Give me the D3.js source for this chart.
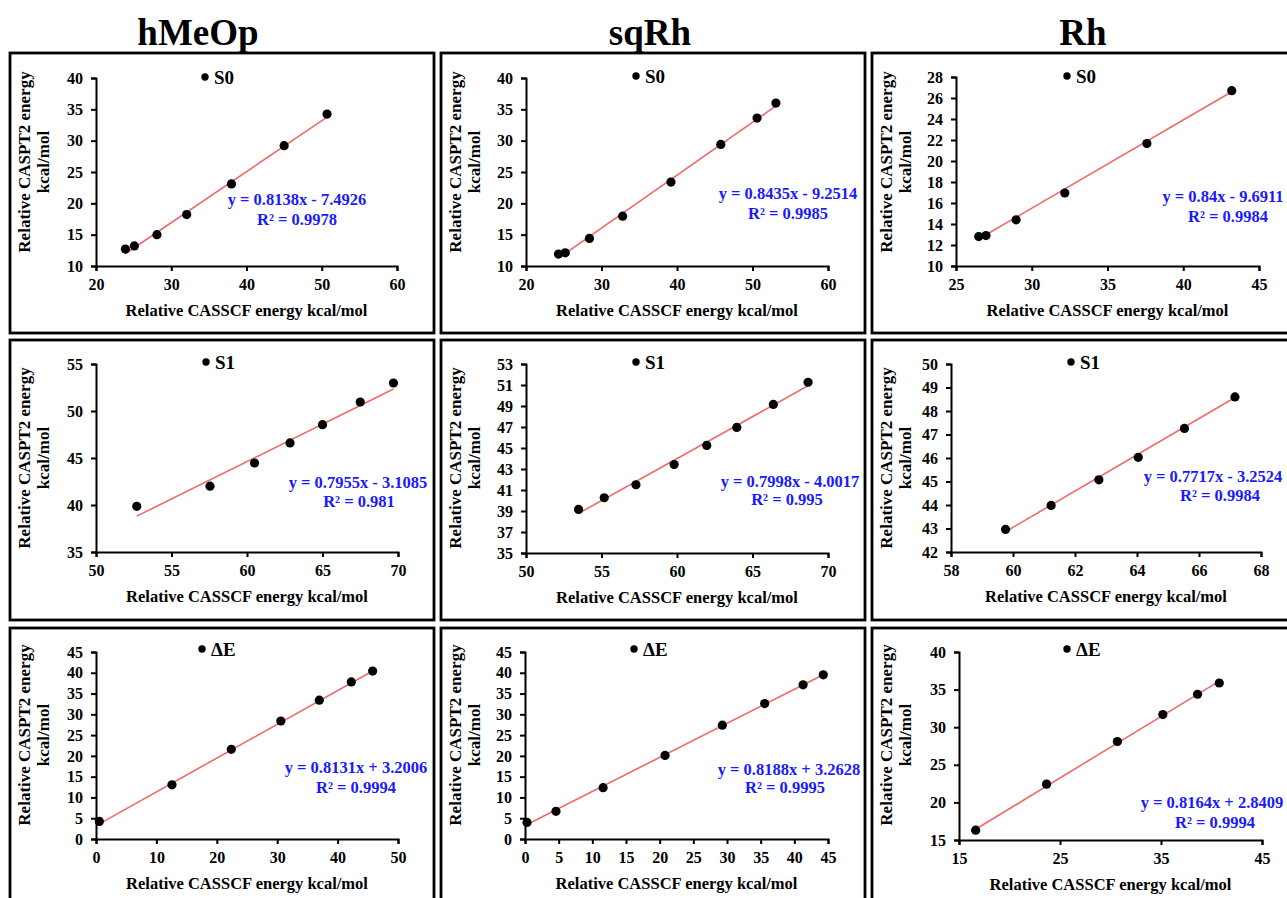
<!DOCTYPE html>
<html><head><meta charset="utf-8">
<script src="https://cdn.jsdelivr.net/npm/d3@7"></script>
<style>body{margin:0;background:#fff}svg{display:block}</style>
</head><body><svg id="c" width="1287" height="898"></svg>
<script>
// ---------- text ----------
const columnTitles = ["hMeOp", "sqRh", "Rh"];
const rowLegends = ["S0", "S1", "\u0394E"];
const xAxisTitle = "Relative CASSCF energy kcal/mol";
const yAxisTitleLines = ["Relative CASPT2 energy", "kcal/mol"];

// ---------- data (CASSCF x, CASPT2 y) ----------
const hMeOpS0X = [23.9, 25.1, 28.1, 32.05, 38.0, 45.0, 50.7];
const hMeOpS0Y = [12.7, 13.2, 15.0, 18.2, 23.1, 29.2, 34.25];
const sqRhS0X = [24.3, 25.2, 28.4, 32.8, 39.2, 45.8, 50.6, 53.1];
const sqRhS0Y = [11.9, 12.1, 14.4, 17.95, 23.4, 29.4, 33.6, 36.0];
const RhS0X = [26.5, 26.98, 28.97, 32.18, 37.6, 43.2];
const RhS0Y = [12.8, 12.9, 14.4, 16.95, 21.66, 26.7];

const hMeOpS1X = [52.7, 57.55, 60.5, 62.85, 65.0, 67.5, 69.7];
const hMeOpS1Y = [39.86, 42.0, 44.47, 46.6, 48.55, 50.96, 52.98];
const sqRhS1X = [53.48, 55.18, 57.28, 59.81, 61.97, 63.96, 66.38, 68.68];
const sqRhS1Y = [39.15, 40.26, 41.5, 43.43, 45.25, 46.96, 49.15, 51.26];
const RhS1X = [59.76, 61.23, 62.77, 64.04, 65.53, 67.16];
const RhS1Y = [42.96, 43.98, 45.07, 46.03, 47.26, 48.6];

const hMeOpDEX = [0.55, 12.58, 22.4, 30.6, 36.97, 42.27, 45.8];
const hMeOpDEY = [4.24, 13.03, 21.58, 28.4, 33.4, 37.8, 40.4];
const sqRhDEX = [0.3, 4.6, 11.6, 20.8, 29.3, 35.6, 41.3, 44.3];
const sqRhDEY = [4.0, 6.66, 12.35, 20.1, 27.4, 32.6, 37.1, 39.5];
const RhDEX = [16.65, 23.67, 30.68, 35.18, 38.62, 40.77];
const RhDEY = [16.3, 22.43, 28.1, 31.68, 34.38, 35.88];

// ---------- fits ----------
const fitSlopes = [0.8138, 0.8435, 0.84, 0.7955, 0.7998, 0.7717, 0.8131, 0.8188, 0.8164];
const fitIntercepts = [-7.4926, -9.2514, -9.6911, -3.1085, -4.0017, -3.2524, 3.2006, 3.2628, 2.8409];
const fitEquations = ["y = 0.8138x - 7.4926", "y = 0.8435x - 9.2514", "y = 0.84x - 9.6911",
  "y = 0.7955x - 3.1085", "y = 0.7998x - 4.0017", "y = 0.7717x - 3.2524",
  "y = 0.8131x + 3.2006", "y = 0.8188x + 3.2628", "y = 0.8164x + 2.8409"];
const fitR2 = ["R\u00b2 = 0.9978", "R\u00b2 = 0.9985", "R\u00b2 = 0.9984",
  "R\u00b2 = 0.981", "R\u00b2 = 0.995", "R\u00b2 = 0.9984",
  "R\u00b2 = 0.9994", "R\u00b2 = 0.9995", "R\u00b2 = 0.9994"];

// ---------- ticks ----------
const xTicksList = [
  [20, 30, 40, 50, 60], [20, 30, 40, 50, 60], [25, 30, 35, 40, 45],
  [50, 55, 60, 65, 70], [50, 55, 60, 65, 70], [58, 60, 62, 64, 66, 68],
  [0, 10, 20, 30, 40, 50], [0, 5, 10, 15, 20, 25, 30, 35, 40, 45], [15, 25, 35, 45]
];
const yTicksList = [
  [10, 15, 20, 25, 30, 35, 40], [10, 15, 20, 25, 30, 35, 40], [10, 12, 14, 16, 18, 20, 22, 24, 26, 28],
  [35, 40, 45, 50, 55], [35, 37, 39, 41, 43, 45, 47, 49, 51, 53], [42, 43, 44, 45, 46, 47, 48, 49, 50],
  [0, 5, 10, 15, 20, 25, 30, 35, 40, 45], [0, 5, 10, 15, 20, 25, 30, 35, 40, 45], [15, 20, 25, 30, 35, 40]
];

const panelXs = [hMeOpS0X, sqRhS0X, RhS0X, hMeOpS1X, sqRhS1X, RhS1X, hMeOpDEX, sqRhDEX, RhDEX];
const panelYs = [hMeOpS0Y, sqRhS0Y, RhS0Y, hMeOpS1Y, sqRhS1Y, RhS1Y, hMeOpDEY, sqRhDEY, RhDEY];

// ---------- layout ----------
const FONT = "'Liberation Serif','Times New Roman',serif";
const frameCols = [[10, 424], [441, 424], [872, 430]];
const frameRows = [[53, 280], [340, 280], [628, 290]];
// plot area [x0, x1, yTop, yBottom]
const plotAreas = [
  [96, 397, 78, 266], [526, 828, 78, 266], [956, 1259, 77, 266],
  [96, 398, 364, 552], [526, 828, 364, 553], [951, 1261, 364, 552],
  [96, 398, 652, 839], [525, 828, 652, 839], [959, 1262, 652, 840]
];
// [eqCx, eqBase, r2Cx, r2Base]
const eqPos = [
  [297, 205, 297, 225], [788, 199, 788, 219], [1223, 202, 1228, 222],
  [358, 488, 359, 507], [790, 487, 787, 505], [1213, 482, 1220, 501],
  [356, 773, 356, 793], [789, 775, 785, 793], [1212, 808, 1215, 828]
];
const legendPos = [
  [205, 77], [636, 76], [1067, 76],
  [206, 362], [636, 362], [1071, 362],
  [202, 649], [634, 649], [1067, 649]
];
const titlePos = [[198, 45], [650, 45], [1083, 45]];
const yTitleRowCenters = [162, 458, 735];

const svg = d3.select("#c");
svg.append("rect").attr("width", 1287).attr("height", 898).attr("fill", "#fff");

// column titles
columnTitles.forEach((t, i) => {
  svg.append("text").attr("x", titlePos[i][0]).attr("y", titlePos[i][1])
    .attr("text-anchor", "middle").attr("font-family", FONT).attr("font-weight", "bold")
    .attr("font-size", 37).attr("fill", "#000").text(t);
});

for (let p = 0; p < 9; p++) {
  const row = Math.floor(p / 3), col = p % 3;
  const [fx, fw] = frameCols[col];
  const [fy, fh] = frameRows[row];
  svg.append("rect").attr("x", fx).attr("y", fy).attr("width", fw).attr("height", fh)
    .attr("fill", "none").attr("stroke", "#000").attr("stroke-width", 2.8);

  const [x0, x1, yT, yB] = plotAreas[p];
  const xt = xTicksList[p], yt = yTicksList[p];
  const xs = d3.scaleLinear().domain([xt[0], xt[xt.length - 1]]).range([x0, x1]);
  const ys = d3.scaleLinear().domain([yt[0], yt[yt.length - 1]]).range([yB, yT]);

  const g = svg.append("g");
  const ax = g.append("g").attr("transform", `translate(0,${yB})`)
    .call(d3.axisBottom(xs).tickValues(xt).tickSizeOuter(0).tickSize(5).tickPadding(8).tickFormat(d3.format("d")));
  const ay = g.append("g").attr("transform", `translate(${x0},0)`)
    .call(d3.axisLeft(ys).tickValues(yt).tickSizeOuter(0).tickSize(5).tickPadding(8).tickFormat(d3.format("d")));
  [ax, ay].forEach(a => {
    a.attr("font-family", FONT);
    a.select(".domain").attr("stroke", "#000").attr("stroke-width", 2);
    a.selectAll(".tick line").attr("stroke", "#000").attr("stroke-width", 2);
    a.selectAll(".tick text").attr("font-family", FONT).attr("font-weight", "bold")
      .attr("font-size", 16).attr("fill", "#000");
  });

  // fit line
  const xd = panelXs[p], yd = panelYs[p];
  const xmin = d3.min(xd), xmax = d3.max(xd);
  const m = fitSlopes[p], b = fitIntercepts[p];
  g.append("line").attr("x1", xs(xmin)).attr("y1", ys(m * xmin + b))
    .attr("x2", xs(xmax)).attr("y2", ys(m * xmax + b))
    .attr("stroke", "#f06a6a").attr("stroke-width", 1.6);

  // points
  g.selectAll("circle.pt").data(xd.map((v, i) => [v, yd[i]])).enter()
    .append("circle").attr("class", "pt")
    .attr("cx", d => xs(d[0])).attr("cy", d => ys(d[1])).attr("r", 4.6).attr("fill", "#000");

  // legend
  const [lx, ly] = legendPos[p];
  g.append("circle").attr("cx", lx).attr("cy", ly).attr("r", 3.7).attr("fill", "#000");
  g.append("text").attr("x", lx + 9).attr("y", ly + 6.5).attr("font-family", FONT)
    .attr("font-weight", "bold").attr("font-size", 19).attr("fill", "#000").text(rowLegends[row]);

  // equation
  const [ex, ey, rx, ry] = eqPos[p];
  g.append("text").attr("x", ex).attr("y", ey).attr("text-anchor", "middle")
    .attr("font-family", FONT).attr("font-weight", "bold").attr("font-size", 16.5)
    .attr("fill", "#1a1aff").text(fitEquations[p]);
  g.append("text").attr("x", rx).attr("y", ry).attr("text-anchor", "middle")
    .attr("font-family", FONT).attr("font-weight", "bold").attr("font-size", 16.5)
    .attr("fill", "#1a1aff").text(fitR2[p]);

  // x axis title
  g.append("text").attr("x", (x0 + x1) / 2).attr("y", yB + 50).attr("text-anchor", "middle")
    .attr("font-family", FONT).attr("font-weight", "bold").attr("font-size", 16.5)
    .attr("fill", "#000").text(xAxisTitle);

  // y axis title (two lines, rotated)
  const cy = yTitleRowCenters[row];
  yAxisTitleLines.forEach((t, k) => {
    const tx = fx + 20 + k * 19;
    g.append("text").attr("transform", `translate(${tx},${cy}) rotate(-90)`)
      .attr("text-anchor", "middle").attr("font-family", FONT).attr("font-weight", "bold")
      .attr("font-size", 17).attr("fill", "#000").text(t);
  });
}
</script></body></html>
